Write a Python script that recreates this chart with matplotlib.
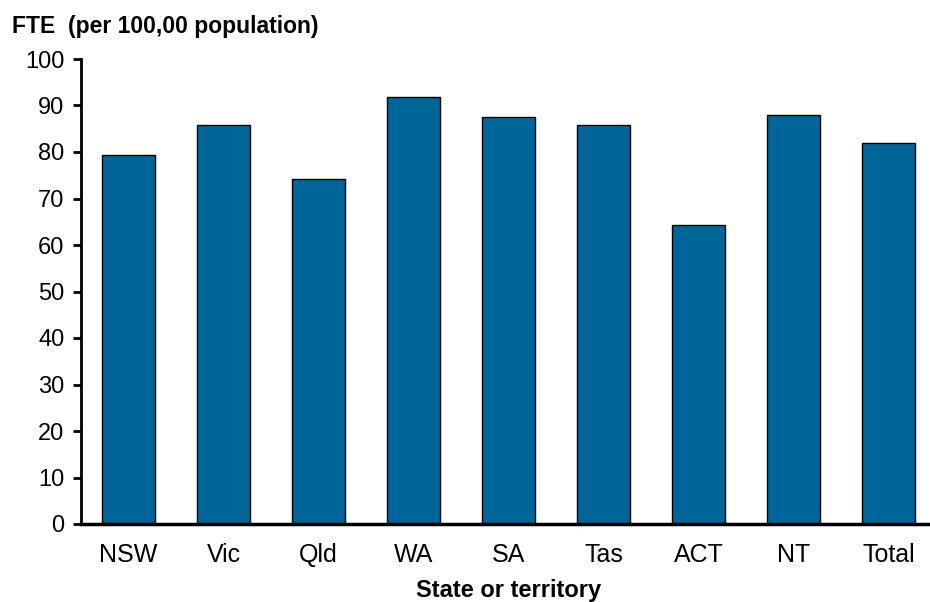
import matplotlib
matplotlib.use("Agg")
import matplotlib.pyplot as plt

categories = ["NSW", "Vic", "Qld", "WA", "SA", "Tas", "ACT", "NT", "Total"]
values = [79.3, 85.8, 74.2, 91.8, 87.5, 85.8, 64.3, 87.9, 81.9]
yticks = [0, 10, 20, 30, 40, 50, 60, 70, 80, 90, 100]

plt.rcParams['font.family'] = ['Liberation Sans', 'DejaVu Sans']

fig = plt.figure(figsize=(9.30, 6.02), dpi=100)
ax = fig.add_axes([81/930, 78/602, 1 - 81/930 + 6/930, 465/602])

x = list(range(len(categories)))
ax.bar(x, values, width=0.56, color="#006699", edgecolor="black", linewidth=1.0, zorder=2)

ax.set_xlim(-0.5, 8.5)
ax.set_ylim(0, 100)
ax.set_yticks(yticks)
ax.set_xticks(x)
ax.set_xticklabels(categories)

for s in ["top", "right"]:
    ax.spines[s].set_visible(False)
ax.spines["left"].set_linewidth(2.0)
ax.spines["bottom"].set_linewidth(2.5)
ax.tick_params(axis="y", direction="out", length=6, width=2.0, labelsize=17, pad=6, colors="black")
ax.tick_params(axis="x", length=0, labelsize=18, pad=14)

fig.text(12/930, 1 - 26/602, "FTE  (per 100,00 population)", fontsize=16.5, fontweight="bold",
         ha="left", va="center")
ax.set_xlabel("State or territory", fontsize=17, fontweight="bold", labelpad=8)

fig.savefig("out.png", dpi=100)
